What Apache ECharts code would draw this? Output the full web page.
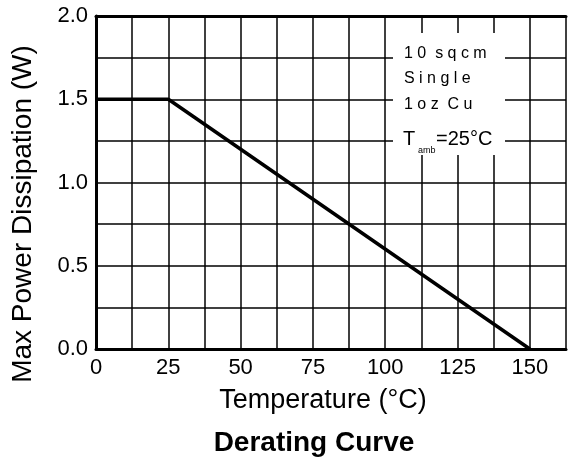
<!DOCTYPE html>
<html>
<head>
<meta charset="utf-8">
<script src="https://cdn.jsdelivr.net/npm/echarts@6/dist/echarts.min.js"></script>
<style>
	html, body { margin: 0; padding: 0; background: #fff; }
	#chart { width: 569px; height: 464px; }
</style>
</head>
<body>
<div id="chart"></div>
<script>
var temperature = [0, 25, 150];
var powerDissipation = [1.5, 1.5, 0];
var noteLines = ["1 0  s q c m", "S i n g l e", "1 o z  C u"];

var font = "Liberation Sans, Arial, sans-serif";

window.onload = function () {
	var chart = echarts.init(document.getElementById("chart"));
	var option = {
		animation: false,
		title: {
			text: "Derating Curve",
			left: 309, top: 424, textAlign: "center",
			textStyle: { fontFamily: font, fontSize: 28, fontWeight: "bold", color: "#000" }
		},
		grid: { left: 96, top: 16, width: 474, height: 333 },
		xAxis: [{
			type: "value", min: 0, max: 162.5, interval: 12.5,
			name: "Temperature (°C)", nameLocation: "middle", nameGap: 38,
			nameTextStyle: { fontFamily: font, fontSize: 27, color: "#000", padding: [0, 0, 0, -16] },
			axisLine: { show: true, onZero: false, lineStyle: { color: "#000", width: 3 } },
			axisTick: { show: false },
			axisLabel: {
				fontFamily: font, fontSize: 22, color: "#000", margin: 8,
				formatter: function (v) { return v % 25 === 0 ? String(v) : ""; }
			},
			splitLine: { show: true, lineStyle: { color: "#000", width: 1.5 } }
		}, {
			type: "value", position: "top", min: 0, max: 162.5,
			axisLine: { show: true, onZero: false, lineStyle: { color: "#000", width: 3 } },
			axisTick: { show: false }, axisLabel: { show: false }, splitLine: { show: false }
		}],
		yAxis: {
			type: "value", min: 0, max: 2, interval: 0.25,
			name: "Max Power Dissipation (W)", nameLocation: "middle", nameGap: 59, nameRotate: 90,
			nameTextStyle: { fontFamily: font, fontSize: 28, color: "#000", padding: [0, 63, 0, 0] },
			axisLine: { show: true, onZero: false, lineStyle: { color: "#000", width: 3 } },
			axisTick: { show: false },
			axisLabel: {
				fontFamily: font, fontSize: 22, color: "#000", margin: 8,
				formatter: function (v) { return Math.abs(v * 2 - Math.round(v * 2)) < 1e-6 ? v.toFixed(1) : ""; }
			},
			splitLine: { show: true, lineStyle: { color: "#000", width: 1.5 } }
		},
		graphic: [{
			type: "rect", z: 100,
			shape: { x: 393, y: 33, width: 112, height: 122 },
			style: { fill: "#fff" }
		}, {
			type: "text", z: 101, left: 404, top: 46,
			style: { text: noteLines[0], font: "16px " + font, fill: "#000" }
		}, {
			type: "text", z: 101, left: 404, top: 71,
			style: { text: noteLines[1], font: "16px " + font, fill: "#000" }
		}, {
			type: "text", z: 101, left: 404, top: 97,
			style: { text: noteLines[2], font: "16px " + font, fill: "#000" }
		}, {
			type: "text", z: 101, left: 403, top: 129,
			style: { text: "T", font: "20px " + font, fill: "#000" }
		}, {
			type: "text", z: 101, left: 418, top: 146,
			style: { text: "amb", font: "9px " + font, fill: "#000" }
		}, {
			type: "text", z: 101, left: 436, top: 129,
			style: { text: "=25°C", font: "20px " + font, fill: "#000" }
		}],
		series: [{
			type: "line",
			data: temperature.map(function (t, i) { return [t, powerDissipation[i]]; }),
			symbol: "none",
			lineStyle: { color: "#000", width: 3.5 },
			z: 10
		}]
	};
	chart.setOption(option);
};
</script>
</body>
</html>
